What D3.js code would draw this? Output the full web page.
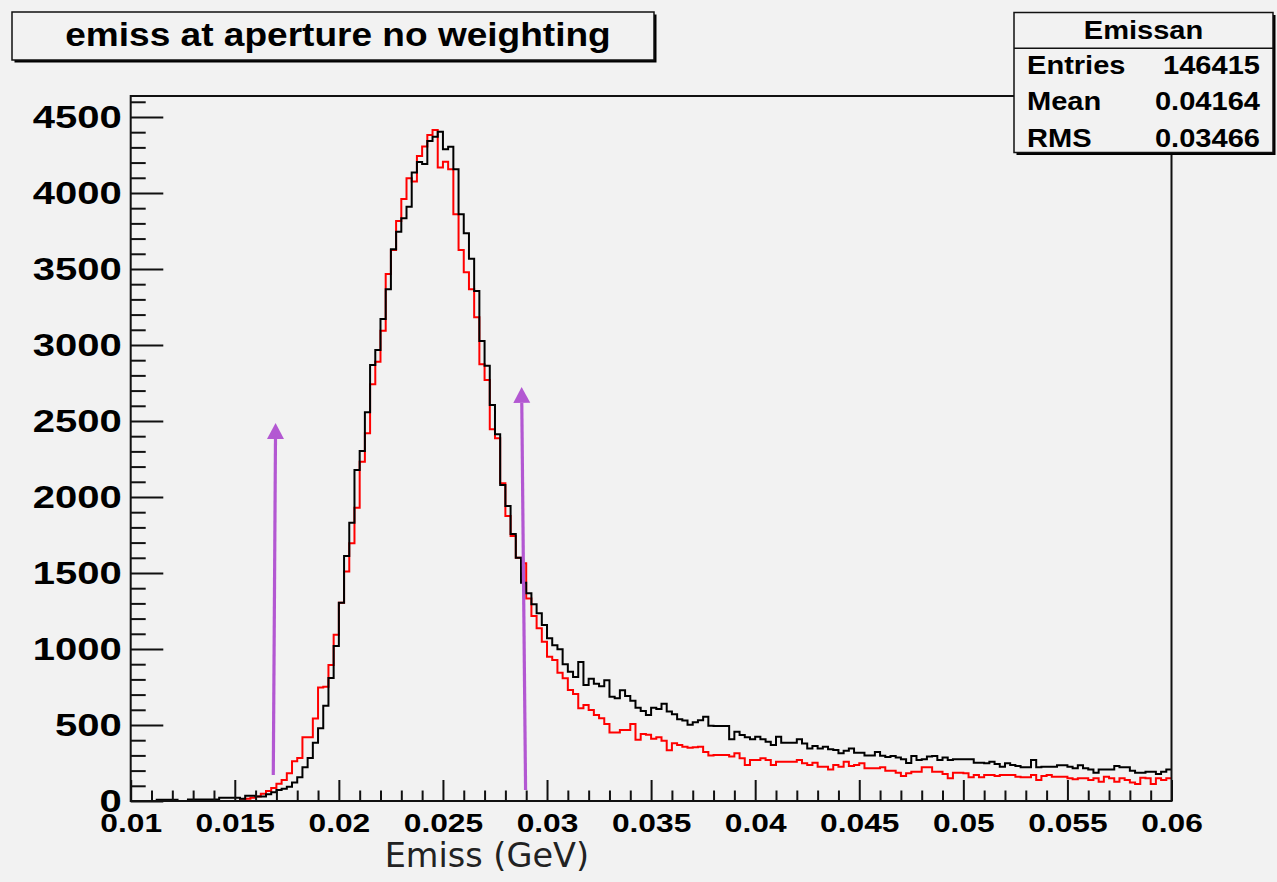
<!DOCTYPE html>
<html>
<head>
<meta charset="utf-8">
<script src="https://cdn.jsdelivr.net/npm/d3@7"></script>
<style>
  html, body { margin: 0; padding: 0; background: #f2f2f2; }
  svg { display: block; }
</style>
</head>
<body>
<svg id="chart" width="1277" height="882"></svg>
<script>
// ---------------- data ----------------
const chartTitle = "emiss at aperture no weighting";
const xAxisTitle = "Emiss (GeV)";
const statsTitle = "Emissan";
const statsLabels = ["Entries", "Mean", "RMS"];
const statsValues = ["146415", "0.04164", "0.03466"];

const xRange = [0.01, 0.06];
const yRange = [0, 4638];
const binLow = 0.01;
const binWidth = 0.00025;

const xMajorTicks = [0.01, 0.015, 0.02, 0.025, 0.03, 0.035, 0.04, 0.045, 0.05, 0.055, 0.06];
const yMajorTicks = [0, 500, 1000, 1500, 2000, 2500, 3000, 3500, 4000, 4500];

// black histogram (200 bins, 0.01 .. 0.06)
const blackCounts = [
  0,0,0,0,0,8,8,8,8,0,
  0,10,10,10,10,10,10,22,22,22,
  22,15,35,35,30,30,45,57,72,81,
  94,121,156,222,283,384,479,627,809,1020,
  1305,1612,1831,2178,2303,2557,2868,2967,3171,3366,
  3629,3745,3833,3910,4134,4204,4191,4342,4370,4403,
  4287,4304,4156,3860,3735,3568,3355,3026,2864,2605,
  2412,2079,1941,1757,1600,1436,1366,1295,1235,1158,
  1070,1025,998,900,851,815,915,763,805,772,
  755,794,686,676,728,690,660,613,592,566,
  613,605,640,588,570,538,530,502,518,531,
  555,495,493,493,493,406,456,434,419,406,
  423,406,390,368,423,384,384,384,406,379,
  346,362,346,357,340,335,314,331,346,318,
  318,300,300,322,298,290,296,287,274,250,
  296,270,274,292,296,270,287,270,274,274,
  274,274,252,252,248,259,243,226,248,237,
  230,222,222,270,222,226,226,226,235,235,
  226,215,235,215,208,186,208,208,208,230,
  222,222,199,186,186,193,193,178,193,208
];

// red histogram (200 bins, 0.01 .. 0.06)
const redCounts = [
  0,0,0,0,0,0,0,0,0,0,
  0,0,0,0,0,0,0,0,0,0,
  0,5,15,22,30,48,66,85,114,138,
  182,261,283,419,419,542,746,752,895,1094,
  1305,1509,1695,1930,2232,2419,2741,2890,3094,3467,
  3625,3816,3961,4097,4075,4243,4305,4382,4415,4167,
  4206,4156,3860,3625,3478,3366,3182,2873,2770,2445,
  2386,2090,1875,1743,1601,1564,1333,1217,1136,1048,
  949,928,844,807,730,704,610,632,599,566,
  544,507,450,450,467,467,506,403,440,436,
  410,420,396,334,380,368,357,350,354,357,
  322,300,303,303,303,292,314,281,237,270,
  270,281,270,237,259,259,259,259,270,248,
  237,252,226,226,208,237,226,259,230,237,
  248,215,215,215,222,199,199,186,164,182,
  193,193,222,222,193,193,178,149,186,186,
  182,156,171,156,171,171,164,171,171,171,
  160,156,156,171,138,164,171,160,160,160,
  149,143,149,149,138,149,127,160,149,127,
  149,138,121,112,153,149,112,149,138,149
];

// annotation arrows: [x start, count start, x tip, count tip]
const arrowLeft  = [0.01685, 171, 0.01696, 2487];
const arrowRight = [0.02897, 72, 0.02878, 2724];

// ---------------- layout ----------------
const svg = d3.select("#chart");
const W = 1277, H = 882;
const plot = { left: 130.7, right: 1171.5, top: 96, bottom: 801 };
const bg = "#f2f2f2";
const ink = "#111";
const purple = "#b358d2";
const boldFont = "'Liberation Sans', Arial, Helvetica, sans-serif";

svg.append("rect").attr("width", W).attr("height", H).attr("fill", bg);

const x = d3.scaleLinear().domain(xRange).range([plot.left, plot.right]);
const y = d3.scaleLinear().domain(yRange).range([plot.bottom, plot.top]);

// clip
svg.append("clipPath").attr("id", "clip")
  .append("rect").attr("x", plot.left).attr("y", plot.top)
  .attr("width", plot.right - plot.left).attr("height", plot.bottom - plot.top);

// histograms
function histPoints(counts) {
  const pts = counts.map((c, i) => ({ x: binLow + i * binWidth, c }));
  pts.push({ x: binLow + counts.length * binWidth, c: counts[counts.length - 1] });
  return pts;
}
const line = d3.line().x(d => x(d.x)).y(d => y(d.c)).curve(d3.curveStepAfter);
const g = svg.append("g").attr("clip-path", "url(#clip)");
g.append("path").datum(histPoints(redCounts)).attr("d", line)
  .attr("fill", "none").attr("stroke", "#ff0000").attr("stroke-width", 2);
g.append("path").datum(histPoints(blackCounts)).attr("d", line)
  .attr("fill", "none").attr("stroke", "#000").attr("stroke-width", 2);

// axes
const fmtX = d => String(+d.toFixed(3));
const xMinor = d3.range(0, 51).map(i => +(0.01 + i * 0.001).toFixed(4)).filter(v => !xMajorTicks.some(t => Math.abs(t - v) < 1e-9));
const yMinor = d3.range(0, 47).map(i => i * 100).filter(v => v % 500 !== 0);

const xAxisG = svg.append("g").attr("class", "xmaj").attr("transform", `translate(0,${plot.bottom})`)
  .call(d3.axisBottom(x).tickValues(xMajorTicks).tickSize(-21).tickSizeOuter(0).tickPadding(12.5).tickFormat(fmtX));
svg.append("g").attr("transform", `translate(0,${plot.bottom})`)
  .call(d3.axisBottom(x).tickValues(xMinor).tickSize(-10.5).tickSizeOuter(0).tickFormat(""));
const yAxisG = svg.append("g").attr("class", "ymaj").attr("transform", `translate(${plot.left},0)`)
  .call(d3.axisLeft(y).tickValues(yMajorTicks).tickSize(-32.6).tickSizeOuter(0).tickPadding(7.2).tickFormat(d3.format("d")));
svg.append("g").attr("transform", `translate(${plot.left},0)`)
  .call(d3.axisLeft(y).tickValues(yMinor).tickSize(-15).tickSizeOuter(0).tickFormat(""));

svg.selectAll(".domain").remove();
svg.selectAll(".tick line").attr("stroke", ink).attr("stroke-width", 2);
xAxisG.selectAll(".tick text")
  .attr("font-family", boldFont).attr("font-weight", "bold")
  .attr("font-size", 26).attr("fill", "#000")
  .attr("transform", "scale(1.22,1)");
yAxisG.selectAll(".tick text")
  .attr("font-family", boldFont).attr("font-weight", "bold")
  .attr("font-size", 32).attr("fill", "#000")
  .attr("transform", "scale(1.25,1)");

// frame
svg.append("rect").attr("x", plot.left).attr("y", plot.top)
  .attr("width", plot.right - plot.left).attr("height", plot.bottom - plot.top)
  .attr("fill", "none").attr("stroke", ink).attr("stroke-width", 2);

// axis title
svg.append("text").attr("x", 589).attr("y", 867).attr("text-anchor", "end")
  .attr("font-family", "DejaVu Sans").attr("font-size", 33.5).attr("fill", "#222")
  .text(xAxisTitle);

// arrows
function drawArrow(a) {
  const x0 = x(a[0]), y0 = y(a[1]), x1 = x(a[2]), y1 = y(a[3]);
  const ang = Math.atan2(y1 - y0, x1 - x0);
  const headLen = 16, headHalf = 8.5;
  const bx = x1 - headLen * Math.cos(ang), by = y1 - headLen * Math.sin(ang);
  svg.append("line").attr("x1", x0).attr("y1", y0).attr("x2", bx).attr("y2", by)
    .attr("stroke", purple).attr("stroke-width", 3.2);
  const px = -Math.sin(ang) * headHalf, py = Math.cos(ang) * headHalf;
  svg.append("path")
    .attr("d", `M${x1},${y1}L${bx + px},${by + py}L${bx - px},${by - py}Z`)
    .attr("fill", purple);
}
drawArrow(arrowLeft);
drawArrow(arrowRight);

// boxes
function shadowBox(x0, y0, w, h) {
  svg.append("rect").attr("x", x0 + 2.5).attr("y", y0 + 2.5).attr("width", w).attr("height", h).attr("fill", "#000");
  svg.append("rect").attr("x", x0).attr("y", y0).attr("width", w).attr("height", h)
    .attr("fill", bg).attr("stroke", ink).attr("stroke-width", 1.5);
}
function stretchedText(txt, xPos, yPos, size, anchor, sx) {
  return svg.append("text")
    .attr("transform", `translate(${xPos},${yPos}) scale(${sx},1)`)
    .attr("text-anchor", anchor)
    .attr("font-family", boldFont).attr("font-weight", "bold").attr("font-size", size)
    .attr("fill", "#000").text(txt);
}

// title box
shadowBox(12, 12, 642, 48);
stretchedText(chartTitle, 338, 46, 34, "middle", 1.09);

// stats box
shadowBox(1014, 12.5, 259, 140);
svg.append("line").attr("x1", 1014).attr("x2", 1273).attr("y1", 48.3).attr("y2", 48.3)
  .attr("stroke", ink).attr("stroke-width", 1.5);
stretchedText(statsTitle, 1143.5, 38.5, 25.5, "middle", 1.14);
const rowY = [73.5, 110, 146.5];
statsLabels.forEach((lab, i) => {
  stretchedText(lab, 1027, rowY[i], 25.5, "start", 1.14);
  stretchedText(statsValues[i], 1260, rowY[i], 25.5, "end", 1.14);
});
</script>
</body>
</html>
